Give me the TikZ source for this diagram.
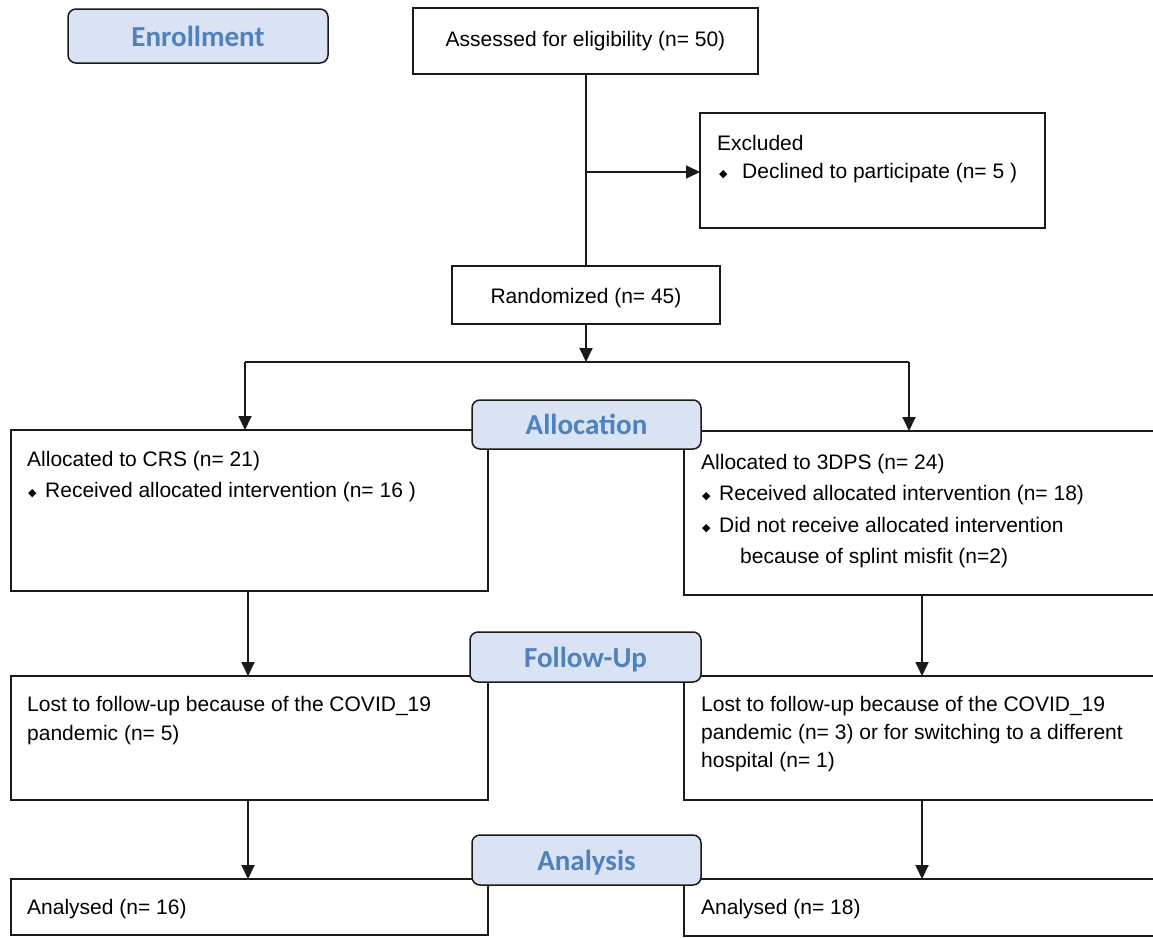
\documentclass[tikz,border=0pt]{standalone}
\usepackage{fontspec}
\setmainfont{Liberation Sans}
\newfontfamily\labfont{Carlito}
\newfontfamily\symfont{DejaVu Sans}
\usetikzlibrary{arrows.meta}
\definecolor{labfill}{HTML}{DAE3F3}
\definecolor{labtext}{HTML}{4F81BD}
\definecolor{edge}{HTML}{1A1A1A}
\newcommand\bulmark{\makebox[0pt][l]{\raisebox{1pt}{\symfont\fontsize{11}{11}\selectfont ◆}}}
\begin{document}
\begin{tikzpicture}[x=1pt,y=-1pt,
  box/.style={draw=edge, line width=1.8pt, fill=white, inner sep=0pt, outer sep=0pt},
  lab/.style={draw=edge, line width=1.5pt, fill=labfill, rounded corners=8pt, inner sep=0pt,
    text height=20pt, text depth=0pt,
    font=\labfont\bfseries\fontsize{29}{29}\selectfont, text=labtext},
  txt/.style={anchor=base west, inner sep=0pt, font=\fontsize{21}{21}\selectfont, text=black},
  ctxt/.style={anchor=base, inner sep=0pt, font=\fontsize{21}{21}\selectfont, text=black},
  conn/.style={draw=edge, line width=1.8pt},
  arr/.style={conn, -{Triangle[length=14pt,width=13pt]}}
]
\useasboundingbox (0,0) rectangle (1153,937);
\fill[white] (0,0) rectangle (1153,937);

% boxes
\node[box, minimum width=345pt, minimum height=66pt] (assess) at (585.5,41) {};
\node[box, minimum width=345pt, minimum height=115pt] (excl) at (872.5,170.5) {};
\node[box, minimum width=268pt, minimum height=58pt] (rand) at (586,295) {};
\node[box, minimum width=477pt, minimum height=161pt] (alL) at (249.5,510.5) {};
\node[box, minimum width=480pt, minimum height=164pt] (alR) at (924,513) {};
\node[box, minimum width=477pt, minimum height=124pt] (fuL) at (249.5,738) {};
\node[box, minimum width=480pt, minimum height=124pt] (fuR) at (924,738) {};
\node[box, minimum width=477pt, minimum height=56pt] (anL) at (249.5,907) {};
\node[box, minimum width=480pt, minimum height=57pt] (anR) at (924,907.5) {};

% connectors
\coordinate (j1) at (586,172);
\coordinate (j2) at (586,362);
\coordinate (jl) at (245,362);
\coordinate (jr) at (909,362);
\draw[conn] (assess.south -| j1) -- (rand.north -| j1);
\draw[arr] (j1) -- (excl.west |- j1);
\draw[arr] (rand.south -| j2) -- (j2);
\draw[conn] (jl) -- (jr);
\draw[arr] (jl) -- (alL.north -| jl);
\draw[arr] (jr) -- (alR.north -| jr);
\coordinate (cl) at (248,0);
\coordinate (cr) at (922,0);
\draw[arr] (alL.south -| cl) -- (fuL.north -| cl);
\draw[arr] (alR.south -| cr) -- (fuR.north -| cr);
\draw[arr] (fuL.south -| cl) -- (anL.north -| cl);
\draw[arr] (fuR.south -| cr) -- (anR.north -| cr);

% texts
\node[ctxt] (tassess) at (585.5,46) {Assessed for eligibility (n= 50)};
\node[txt] (tex1) at (717,150) {Excluded};
\node[txt] (tex2) at (719,178) {\bulmark\hspace{23pt}Declined to participate (n= 5 )};
\node[txt] (tal1) at (27,466) {Allocated to CRS (n= 21)};
\node[txt] (tal2) at (28,497) {\bulmark\hspace{17pt}Received allocated intervention (n= 16 )};

\node[txt] (tar1) at (701,469) {Allocated to 3DPS (n= 24)};
\node[txt] (tar2) at (702,500) {\bulmark\hspace{17pt}Received allocated intervention (n= 18)};
\node[txt] (tar3) at (702,532) {\bulmark\hspace{17pt}Did not receive allocated intervention};
\node[txt] (tar4) at (740,563) {because of splint misfit (n=2)};

\node[ctxt] (trand) at (586,303) {Randomized (n= 45)};

\node[txt] (tfl1) at (27,711) {Lost to follow-up because of the COVID\_19};
\node[txt] (tfl2) at (27,740) {pandemic (n= 5)};
\node[txt] (tfr1) at (701,711) {Lost to follow-up because of the COVID\_19};
\node[txt] (tfr2) at (701,739) {pandemic (n= 3) or for switching to a different};
\node[txt] (tfr3) at (701,767) {hospital (n= 1)};

\node[txt] (tanl) at (27,914) {Analysed (n= 16)};
\node[txt] (tanr) at (701,914) {Analysed (n= 18)};

% stage labels
\node[lab, minimum width=260pt, minimum height=54pt] (enroll) at (198,36) {Enrollment};
\node[lab, minimum width=229pt, minimum height=49pt] (alloc) at (586.5,424.5) {Allocation};
\node[lab, minimum width=231pt, minimum height=50pt] (follow) at (585.5,657) {Follow-Up};
\node[lab, minimum width=229pt, minimum height=50pt] (analysis) at (586.5,860) {Analysis};
\end{tikzpicture}
\end{document}
